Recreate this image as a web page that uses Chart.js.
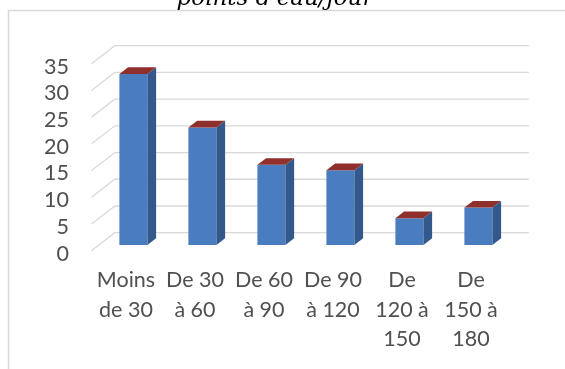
<!DOCTYPE html>
<html>
<head>
<meta charset="utf-8">
<script src="https://cdn.jsdelivr.net/npm/chart.js@4/dist/chart.umd.min.js"></script>
<style>
  html, body { margin: 0; padding: 0; background: #fff; overflow: hidden; }
  #wrap { position: relative; width: 565px; height: 369px; }
  canvas { display: block; }
</style>
</head>
<body>
<div id="wrap"><canvas id="c" width="565" height="369"></canvas></div>
<script>
// Durée de trajet vers les points d'eau (minutes) et effectifs
const categories = [
  ["Moins", "de 30"],
  ["De 30", "à 60"],
  ["De 60", "à 90"],
  ["De 90", "à 120"],
  ["De", "120 à", "150"],
  ["De", "150 à", "180"]
];
const counts = [32, 22, 15, 14, 5, 7];
const yTicks = [0, 5, 10, 15, 20, 25, 30, 35];
const titleText = "points d'eau/jour";

// Pseudo-3D geometry (pixels)
const FLOOR_DX = 23.3, FLOOR_DY = 18;   // depth of the floor / back wall
const BAR_OX = 7.4, BAR_OY = 5.7;       // front face of the bars inside the depth
const BAR_DX = 8.7, BAR_DY = 6.7;       // thickness of each bar

const FRONT = '#4A7DBF', SIDE = '#33598C', TOP = '#8F302D', GRID = '#D9D9D9';

const frame3d = {
  id: 'frame3d',
  beforeDraw(chart) {
    const ctx = chart.ctx;
    ctx.save();
    // chart frame (left and top borders)
    ctx.strokeStyle = '#D9D9D9';
    ctx.lineWidth = 1.5;
    ctx.beginPath();
    ctx.moveTo(8.5, 369);
    ctx.lineTo(8.5, 10.5);
    ctx.lineTo(565, 10.5);
    ctx.stroke();
    // title (last line of a longer heading above)
    ctx.fillStyle = '#000';
    ctx.font = 'italic 23px "DejaVu Serif"';
    ctx.textAlign = 'center';
    ctx.textBaseline = 'alphabetic';
    ctx.fillText(titleText, 275, 5);
    ctx.restore();
  },
  beforeDatasetsDraw(chart) {
    const ctx = chart.ctx;
    const ys = chart.scales.y;
    const { left, right } = chart.chartArea;
    ctx.save();
    ctx.strokeStyle = GRID;
    ctx.lineWidth = 1.3;
    yTicks.forEach(v => {
      const y = ys.getPixelForValue(v);
      ctx.beginPath();
      ctx.moveTo(left, y);
      ctx.lineTo(left + FLOOR_DX, y - FLOOR_DY);
      ctx.lineTo(right + FLOOR_DX, y - FLOOR_DY);
      ctx.stroke();
    });
    ctx.restore();
    // bars sit a little behind the front plane
    ctx.save();
    ctx.translate(BAR_OX, -BAR_OY);
  },
  afterDatasetsDraw(chart) {
    const ctx = chart.ctx;
    const meta = chart.getDatasetMeta(0);
    meta.data.forEach(bar => {
      const { x, y, base, width } = bar.getProps(['x', 'y', 'base', 'width'], true);
      const l = x - width / 2, r = x + width / 2;
      // side face
      ctx.fillStyle = SIDE;
      ctx.beginPath();
      ctx.moveTo(r, y);
      ctx.lineTo(r + BAR_DX, y - BAR_DY);
      ctx.lineTo(r + BAR_DX, base - BAR_DY);
      ctx.lineTo(r, base);
      ctx.closePath();
      ctx.fill();
      // top face
      ctx.fillStyle = TOP;
      ctx.beginPath();
      ctx.moveTo(l, y);
      ctx.lineTo(l + BAR_DX, y - BAR_DY);
      ctx.lineTo(r + BAR_DX, y - BAR_DY);
      ctx.lineTo(r, y);
      ctx.closePath();
      ctx.fill();
    });
    ctx.restore();
  }
};

const labelFont = { family: 'Lato', size: 21.5, lineHeight: 29.5 / 21.5 };

new Chart(document.getElementById('c'), {
  type: 'bar',
  data: {
    labels: categories,
    datasets: [{
      data: counts,
      backgroundColor: FRONT,
      borderWidth: 0,
      categoryPercentage: 1,
      barPercentage: 0.406,
      clip: false
    }]
  },
  options: {
    responsive: false,
    animation: false,
    events: [],
    layout: { padding: { left: 0, top: 63.7, right: 59.5, bottom: 0 } },
    plugins: { legend: { display: false }, tooltip: { enabled: false }, title: { display: false } },
    scales: {
      x: {
        grid: { display: false, drawTicks: false },
        border: { display: false },
        ticks: { color: '#505050', font: labelFont, padding: 15, maxRotation: 0, minRotation: 0, autoSkip: false },
        afterFit(scale) { scale.height = 118.3; }
      },
      y: {
        min: 0, max: 35,
        grid: { display: false, drawTicks: false },
        border: { display: false },
        ticks: {
          stepSize: 5, autoSkip: false, color: '#505050',
          // a blank leading line nudges each value slightly below its grid level
          callback: v => ['', String(v)],
          font: { family: 'Lato', size: 21.5, lineHeight: '6px' },
          padding: 22.5
        },
        afterFit(scale) { scale.width = 91.5; }
      }
    }
  },
  plugins: [frame3d]
});
</script>
</body>
</html>
